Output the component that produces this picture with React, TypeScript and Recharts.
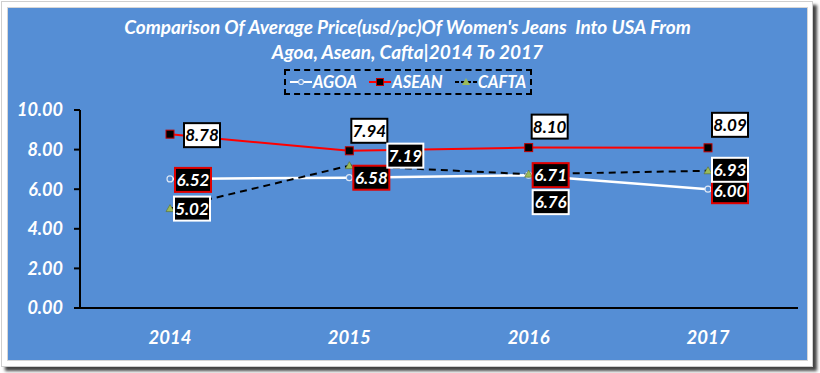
import React from 'react'
import { LineChart, Line, XAxis, YAxis, LabelList } from 'recharts'

const years = ['2014', '2015', '2016', '2017']
const agoa = [6.52, 6.58, 6.71, 6.0]
const asean = [8.78, 7.94, 8.1, 8.09]
const cafta = [5.02, 7.19, 6.76, 6.93]
const yTicks = [0, 2, 4, 6, 8, 10]

// where each data label box sits relative to its point
const agoaLabelPos = [[23, 1], [22, 0], [22, 0], [22, 2]]
const aseanLabelPos = [[32, 1], [20, -20], [21, -21], [22, -23]]
const caftaLabelPos = [[22, 0], [56, -10], [22, 28], [22, -1]]

const data = years.map((year, i) => ({ year, agoa: agoa[i], asean: asean[i], cafta: cafta[i] }))

const FONT = 'Lato, "Open Sans", sans-serif'
const BLUE = '#558ED5'

function makeLabel(pos: number[][], fill: string, border: string, color: string) {
  return (props: any) => {
    const x = props.x ?? props.viewBox?.x
    const y = props.y ?? props.viewBox?.y
    const [dx, dy] = pos[props.index] || [0, 0]
    const cx = x + dx
    const cy = y + dy
    return (
      <g key={`lbl-${props.index}`}>
        <rect x={cx - 18} y={cy - 12} width={36} height={24} fill={fill} stroke={border} strokeWidth={2} />
        <text x={cx} y={cy} dy="0.36em" textAnchor="middle" fill={color}
          style={{ fontFamily: FONT, fontSize: 17, fontWeight: 700, fontStyle: 'italic' }}>
          {Number(props.value).toFixed(2)}
        </text>
      </g>
    )
  }
}

const agoaDot = (p: any) => (
  <circle key={`a-${p.index}`} cx={p.cx} cy={p.cy} r={3} fill={BLUE} stroke="#dbe6f5" strokeWidth={1.2} />
)
const aseanDot = (p: any) => (
  <rect key={`s-${p.index}`} x={p.cx - 4} y={p.cy - 4} width={8} height={8} fill="#000" stroke="#c00000" strokeWidth={1} />
)
const caftaDot = (p: any) => (
  <path key={`c-${p.index}`} d={`M${p.cx - 4},${p.cy + 3}L${p.cx},${p.cy - 4}L${p.cx + 4},${p.cy + 3}Z`} fill="#9BBB59" stroke="#5a6e2a" strokeWidth={0.6} />
)

const legendItems = [
  { name: 'AGOA', stroke: '#fff', dash: undefined, mark: 'circle' },
  { name: 'ASEAN', stroke: '#ff0000', dash: undefined, mark: 'square' },
  { name: 'CAFTA', stroke: '#000', dash: '4 2', mark: 'tri' },
]

function LegendIcon({ stroke, dash, mark }: { stroke: string; dash?: string; mark: string }) {
  return (
    <svg width={22} height={12} style={{ display: 'block' }}>
      <line x1={0} y1={6} x2={22} y2={6} stroke={stroke} strokeWidth={2} strokeDasharray={dash} />
      {mark === 'circle' && <circle cx={11} cy={6} r={2.5} fill={BLUE} stroke="#dbe6f5" strokeWidth={1.2} />}
      {mark === 'square' && <rect x={7.5} y={2.5} width={7} height={7} fill="#000" stroke="#c00000" />}
      {mark === 'tri' && <path d="M7,9L11,2L15,9Z" fill="#9BBB59" />}
    </svg>
  )
}

export default function App() {
  const textStyle = { fontFamily: FONT, fontWeight: 700, fontStyle: 'italic' as const, color: '#fff' }
  return (
    <div style={{ position: 'absolute', left: 0, top: 0, width: 820, height: 373, background: '#fff' }}>
      <div style={{
        position: 'absolute', left: 1, top: 1, width: 812, height: 366, boxSizing: 'border-box',
        border: '1px solid #cfcfcf', background: '#fff', boxShadow: '4px 4px 3px #444',
      }} />
      <div style={{
        position: 'absolute', left: 8, top: 8, width: 799, height: 352, background: BLUE,
        boxShadow: '0 0 0 1px #d6d6d6',
      }} />
      <div style={{ position: 'absolute', left: 8, top: 14, width: 799, textAlign: 'center', fontSize: 19, lineHeight: '25px', whiteSpace: 'pre', ...textStyle }}>
        <div>{"Comparison Of Average Price(usd/pc)Of Women's Jeans  Into USA From"}</div>
        <div>{'Agoa, Asean, Cafta|2014 To 2017'}</div>
      </div>
      <div style={{
        position: 'absolute', left: 284, top: 69, width: 248, height: 26, boxSizing: 'border-box',
        border: '2px dashed #000', display: 'flex', alignItems: 'center', justifyContent: 'center', gap: 12,
      }}>
        {legendItems.map((it) => (
          <div key={it.name} style={{ display: 'flex', alignItems: 'center', gap: 1 }}>
            <LegendIcon stroke={it.stroke} dash={it.dash} mark={it.mark} />
            <span style={{ fontSize: 16.5, ...textStyle }}>{it.name}</span>
          </div>
        ))}
      </div>
      <div style={{ position: 'absolute', left: 8, top: 8 }}>
        <LineChart width={799} height={352} data={data} margin={{ top: 102, right: 9, bottom: 0, left: 0 }}>
          <XAxis dataKey="year" height={52} padding={{ left: 90, right: 90 }}
            axisLine={{ stroke: '#000', strokeWidth: 2 }} tickLine={false} tickMargin={17}
            tick={{ fill: '#fff', fontSize: 18.5, fontFamily: FONT, fontWeight: 700, fontStyle: 'italic' }} />
          <YAxis width={72} domain={[0, 10]} ticks={yTicks} interval={0}
            tickFormatter={(v: number) => v.toFixed(2)}
            axisLine={{ stroke: '#000', strokeWidth: 2 }} tickLine={{ stroke: '#000', strokeWidth: 2 }}
            tickSize={6} tickMargin={11}
            tick={{ fill: '#fff', fontSize: 18, fontFamily: FONT, fontWeight: 700, fontStyle: 'italic' }} />
          <Line dataKey="agoa" stroke="#fff" strokeWidth={2.5} dot={agoaDot} isAnimationActive={false}>
            <LabelList dataKey="agoa" content={makeLabel(agoaLabelPos, '#000', '#e00000', '#fff')} />
          </Line>
          <Line dataKey="asean" stroke="#ff0000" strokeWidth={2} dot={aseanDot} isAnimationActive={false}>
            <LabelList dataKey="asean" content={makeLabel(aseanLabelPos, '#fff', '#000', '#000')} />
          </Line>
          <Line dataKey="cafta" stroke="#000" strokeWidth={2} strokeDasharray="7 5" dot={caftaDot} isAnimationActive={false}>
            <LabelList dataKey="cafta" content={makeLabel(caftaLabelPos, '#000', '#fff', '#fff')} />
          </Line>
        </LineChart>
      </div>
    </div>
  )
}
